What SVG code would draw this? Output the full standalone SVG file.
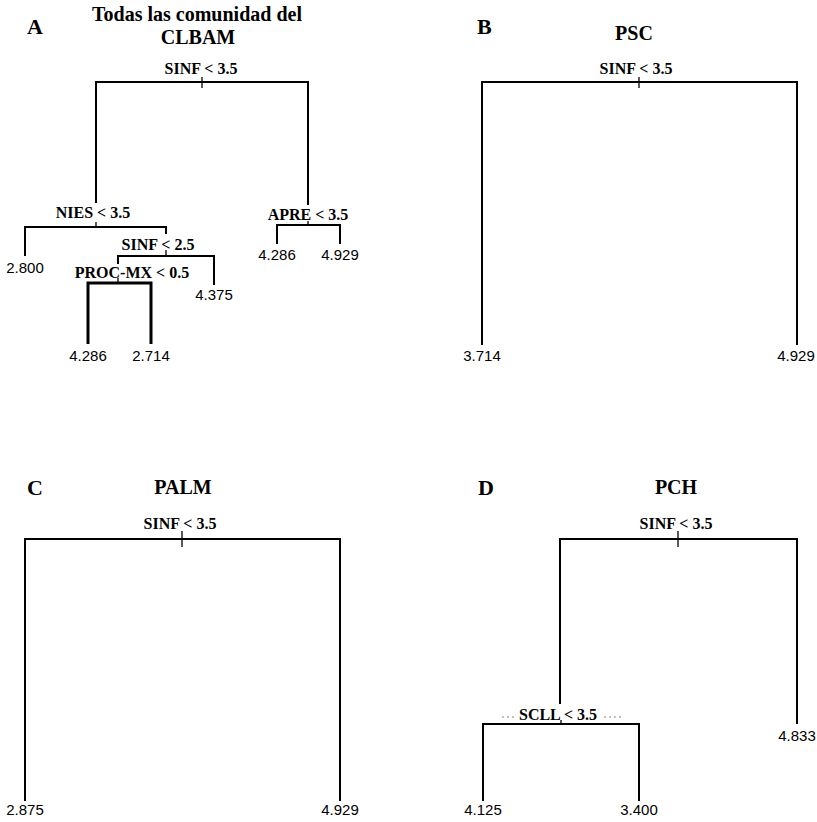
<svg xmlns="http://www.w3.org/2000/svg" width="817" height="822" viewBox="0 0 817 822">
<style>
.bg{fill:#fff}
.e{stroke:#000;stroke-width:2;fill:none;stroke-linecap:square}
.t{stroke:#000;stroke-width:1.3;fill:none}
.th{stroke:#000;stroke-width:3;fill:none}
.pl{font-family:"Liberation Serif","Times New Roman",serif;font-weight:bold;font-size:22px;fill:#000}
.ti{font-family:"Liberation Serif","Times New Roman",serif;font-weight:bold;font-size:20px;fill:#000;text-anchor:middle}
.sp{font-family:"Liberation Serif","Times New Roman",serif;font-weight:bold;font-size:16px;fill:#000;text-anchor:middle}
.lf{font-family:"Liberation Sans",Arial,sans-serif;font-size:15px;fill:#000;text-anchor:middle}
.dot{stroke:#888;stroke-width:1;stroke-dasharray:2 3}
</style>
<rect class="bg" x="0" y="0" width="817" height="822"/>

<!-- Panel A -->
<g id="panelA">
<text class="pl" x="27" y="34">A</text>
<text class="ti" x="197" y="21">Todas las comunidad del</text>
<text class="ti" x="198" y="44">CLBAM</text>
</g>
<g id="connectorsA">
<path class="e" d="M96,202 V82 H308 V204"/>
<path class="t" d="M202,77 V88"/>
<path class="t" d="M96,222 V227"/>
<path class="e" d="M25,255 V227 H166 V233"/>
<path class="t" d="M166,250 V256"/>
<path class="e" d="M118,263 V256 H214 V284"/>
<path class="t" d="M118,278 V283"/>
<path class="th" d="M88,344 V283 H151 V344"/>
<path class="t" d="M308,221 V225"/>
<path class="e" d="M277,243 V225 H340 V243"/>
</g>
<g id="A_root"><text class="sp" x="201" y="74">SINF &lt; 3.5</text></g>
<g id="A_nies"><text class="sp" x="93" y="218">NIES &lt; 3.5</text></g>
<g id="A_sinf25"><text class="sp" x="158" y="250">SINF &lt; 2.5</text></g>
<g id="A_proc"><text class="sp" x="132" y="278">PROC-MX &lt; 0.5</text></g>
<g id="A_apre"><text class="sp" x="308" y="220">APRE &lt; 3.5</text></g>
<g id="A_l1"><text class="lf" x="25" y="273">2.800</text></g>
<g id="A_l2"><text class="lf" x="214" y="300">4.375</text></g>
<g id="A_l3"><text class="lf" x="88" y="361">4.286</text></g>
<g id="A_l4"><text class="lf" x="151" y="361">2.714</text></g>
<g id="A_l5"><text class="lf" x="277" y="260">4.286</text></g>
<g id="A_l6"><text class="lf" x="340" y="260">4.929</text></g>

<!-- Panel B -->
<g id="panelB">
<text class="pl" x="477" y="34">B</text>
<text class="ti" x="634" y="40">PSC</text>
</g>
<g id="connectorsB">
<path class="e" d="M482,344 V82 H797 V344"/>
<path class="t" d="M639,77 V88"/>
</g>
<g id="B_root"><text class="sp" x="636" y="74">SINF &lt; 3.5</text></g>
<g id="B_l1"><text class="lf" x="482" y="361">3.714</text></g>
<g id="B_l2"><text class="lf" x="796" y="361">4.929</text></g>

<!-- Panel C -->
<g id="panelC">
<text class="pl" x="27" y="495">C</text>
<text class="ti" x="183" y="494">PALM</text>
</g>
<g id="connectorsC">
<path class="e" d="M25,800 V539 H340 V800"/>
<path class="t" d="M182,531 V547"/>
</g>
<g id="C_root"><text class="sp" x="180" y="529">SINF &lt; 3.5</text></g>
<g id="C_l1"><text class="lf" x="25" y="815">2.875</text></g>
<g id="C_l2"><text class="lf" x="340" y="815">4.929</text></g>

<!-- Panel D -->
<g id="panelD">
<text class="pl" x="478" y="495">D</text>
<text class="ti" x="676" y="494">PCH</text>
</g>
<g id="connectorsD">
<path class="e" d="M560,703 V539 H797 V723"/>
<path class="t" d="M678,531 V547"/>
<path class="e" d="M483,800 V724 H639 V800"/>
<path class="t" d="M561,720 V724"/>
<path class="dot" d="M502,717 H514 M604,717 H622"/>
</g>
<g id="D_root"><text class="sp" x="676" y="529">SINF &lt; 3.5</text></g>
<g id="D_scll"><text class="sp" x="558" y="720">SCLL &lt; 3.5</text></g>
<g id="D_l1"><text class="lf" x="797" y="741">4.833</text></g>
<g id="D_l2"><text class="lf" x="483" y="815">4.125</text></g>
<g id="D_l3"><text class="lf" x="639" y="815">3.400</text></g>
</svg>
